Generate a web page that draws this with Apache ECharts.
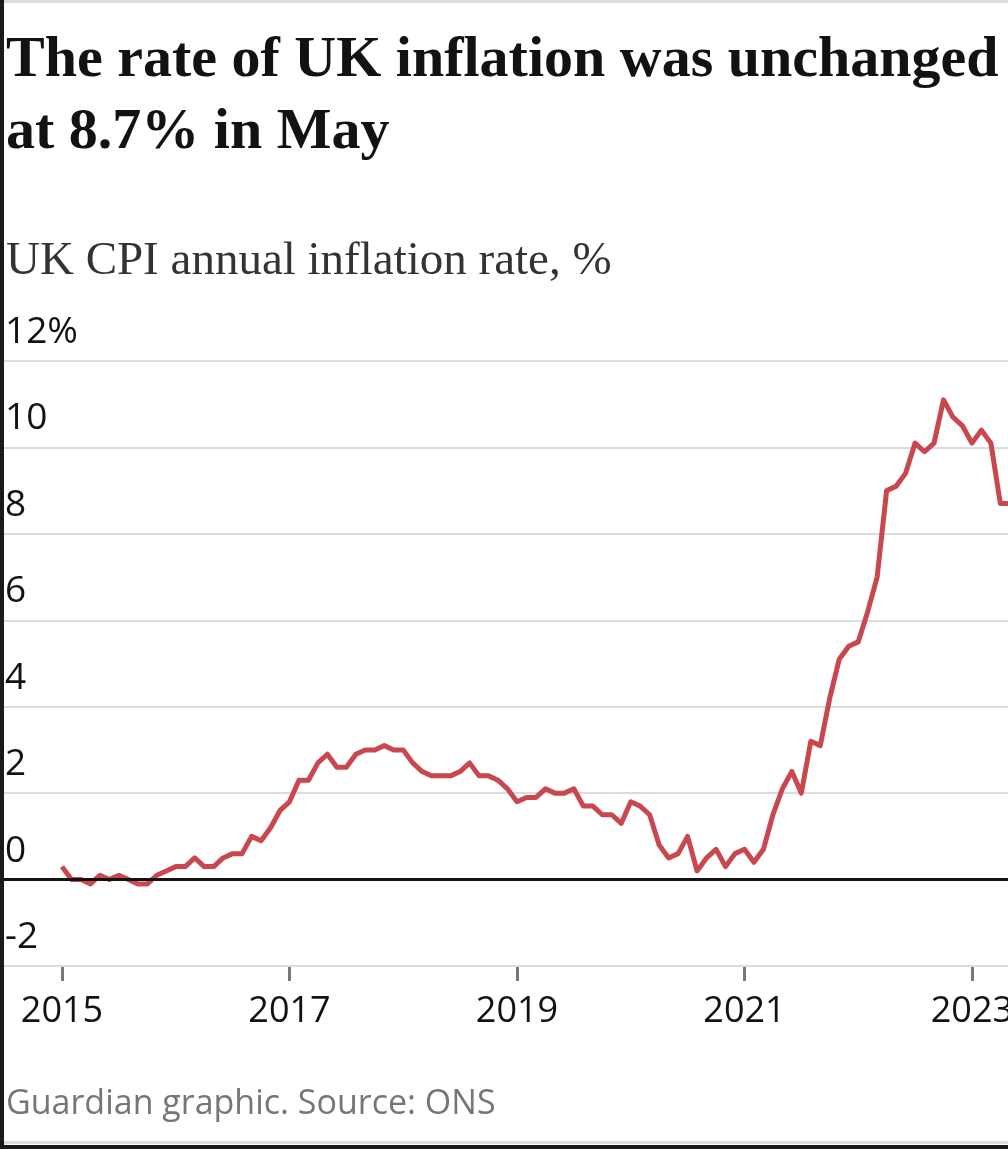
<!DOCTYPE html>
<html>
<head>
<meta charset="utf-8">
<script src="https://cdn.jsdelivr.net/npm/echarts@6/dist/echarts.min.js"></script>
<style>
html,body{margin:0;padding:0;background:#fff;overflow:hidden;}
#chart{width:1008px;height:1149px;}
</style>
</head>
<body>
<div id="chart"></div>
<script>
// Monthly UK CPI annual inflation rate, %, Jan 2015 – May 2023
const startYear = 2015;
const cpi2015 = [0.3, 0.0, 0.0, -0.1, 0.1, 0.0, 0.1, 0.0, -0.1, -0.1, 0.1, 0.2];
const cpi2016 = [0.3, 0.3, 0.5, 0.3, 0.3, 0.5, 0.6, 0.6, 1.0, 0.9, 1.2, 1.6];
const cpi2017 = [1.8, 2.3, 2.3, 2.7, 2.9, 2.6, 2.6, 2.9, 3.0, 3.0, 3.1, 3.0];
const cpi2018 = [3.0, 2.7, 2.5, 2.4, 2.4, 2.4, 2.5, 2.7, 2.4, 2.4, 2.3, 2.1];
const cpi2019 = [1.8, 1.9, 1.9, 2.1, 2.0, 2.0, 2.1, 1.7, 1.7, 1.5, 1.5, 1.3];
const cpi2020 = [1.8, 1.7, 1.5, 0.8, 0.5, 0.6, 1.0, 0.2, 0.5, 0.7, 0.3, 0.6];
const cpi2021 = [0.7, 0.4, 0.7, 1.5, 2.1, 2.5, 2.0, 3.2, 3.1, 4.2, 5.1, 5.4];
const cpi2022 = [5.5, 6.2, 7.0, 9.0, 9.1, 9.4, 10.1, 9.9, 10.1, 11.1, 10.7, 10.5];
const cpi2023 = [10.1, 10.4, 10.1, 8.7, 8.7];
const yearTicks = [2015, 2017, 2019, 2021, 2023];
const yTickLabels = ['-2', '0', '2', '4', '6', '8', '10', '12%'];

const titleText = 'The rate of UK inflation was unchanged\nat 8.7% in May';
const subtitleText = 'UK CPI annual inflation rate, %';
const footerText = 'Guardian graphic. Source: ONS';

const allValues = [].concat(cpi2015, cpi2016, cpi2017, cpi2018, cpi2019, cpi2020, cpi2021, cpi2022, cpi2023);
const seriesData = allValues.map((v, i) => [startYear + i / 12, v]);

const chart = echarts.init(document.getElementById('chart'), null, {renderer: 'canvas', width: 1008, height: 1149});
const option = {
  backgroundColor: '#ffffff',
  animation: false,
  title: [
    {
      text: titleText, left: 1, top: 20,
      textStyle: {fontFamily: 'Liberation Serif', fontWeight: 'bold', fontSize: 58, lineHeight: 72, color: '#121212'}
    },
    {
      text: subtitleText, left: 1, top: 233,
      textStyle: {fontFamily: 'Liberation Serif', fontWeight: 'normal', fontSize: 47, color: '#333333'}
    },
    {
      text: footerText, left: 1, top: 1082,
      textStyle: {fontFamily: 'Open Sans', fontWeight: 'normal', fontSize: 34, color: '#767676'}
    }
  ],
  graphic: [
    {type: 'rect', left: 0, top: 0, shape: {width: 4, height: 1149}, style: {fill: '#1a1a1a'}, z: 100},
    {type: 'rect', left: 4, top: 0, shape: {width: 1004, height: 3}, style: {fill: '#dcdcdc'}, z: 100},
    {type: 'rect', left: 4, top: 1141, shape: {width: 1004, height: 3}, style: {fill: '#dcdcdc'}, z: 100},
    {type: 'rect', left: 0, top: 1145, shape: {width: 1008, height: 4}, style: {fill: '#1a1a1a'}, z: 100}
  ],
  grid: {left: 4, right: 0, top: 361, bottom: 183, containLabel: false, outerBoundsMode: 'none'},
  xAxis: {
    type: 'value',
    min: 2014.49,
    max: 2023.317,
    axisLine: {show: false, onZero: false},
    splitLine: {show: false},
    axisTick: {show: true, customValues: yearTicks, length: 15, lineStyle: {color: '#777777', width: 3}},
    axisLabel: {
      customValues: yearTicks, margin: 28, hideOverlap: false,
      fontFamily: 'Open Sans', fontSize: 36, color: '#121212',
      formatter: v => String(Math.round(v))
    }
  },
  yAxis: {
    type: 'value',
    min: -2, max: 12, interval: 2,
    axisLine: {show: false},
    axisTick: {show: false},
    splitLine: {show: true, lineStyle: {color: '#dcdcdc', width: 2}},
    axisLabel: {
      inside: true, margin: 1, align: 'left', verticalAlign: 'bottom',
      padding: [0, 0, 10, 0],
      fontFamily: 'Open Sans', fontSize: 37, color: '#121212',
      formatter: v => yTickLabels[Math.round((v + 2) / 2)]
    },
    z: 1
  },
  series: [{
    type: 'line',
    data: seriesData,
    showSymbol: false,
    clip: false,
    lineStyle: {color: '#c9474e', width: 5, join: 'round'},
    markLine: {
      silent: true, symbol: 'none', animation: false,
      label: {show: false},
      lineStyle: {color: '#121212', width: 3, type: 'solid'},
      data: [{yAxis: 0}]
    },
    z: 3
  }]
};
chart.setOption(option);
</script>
</body>
</html>
